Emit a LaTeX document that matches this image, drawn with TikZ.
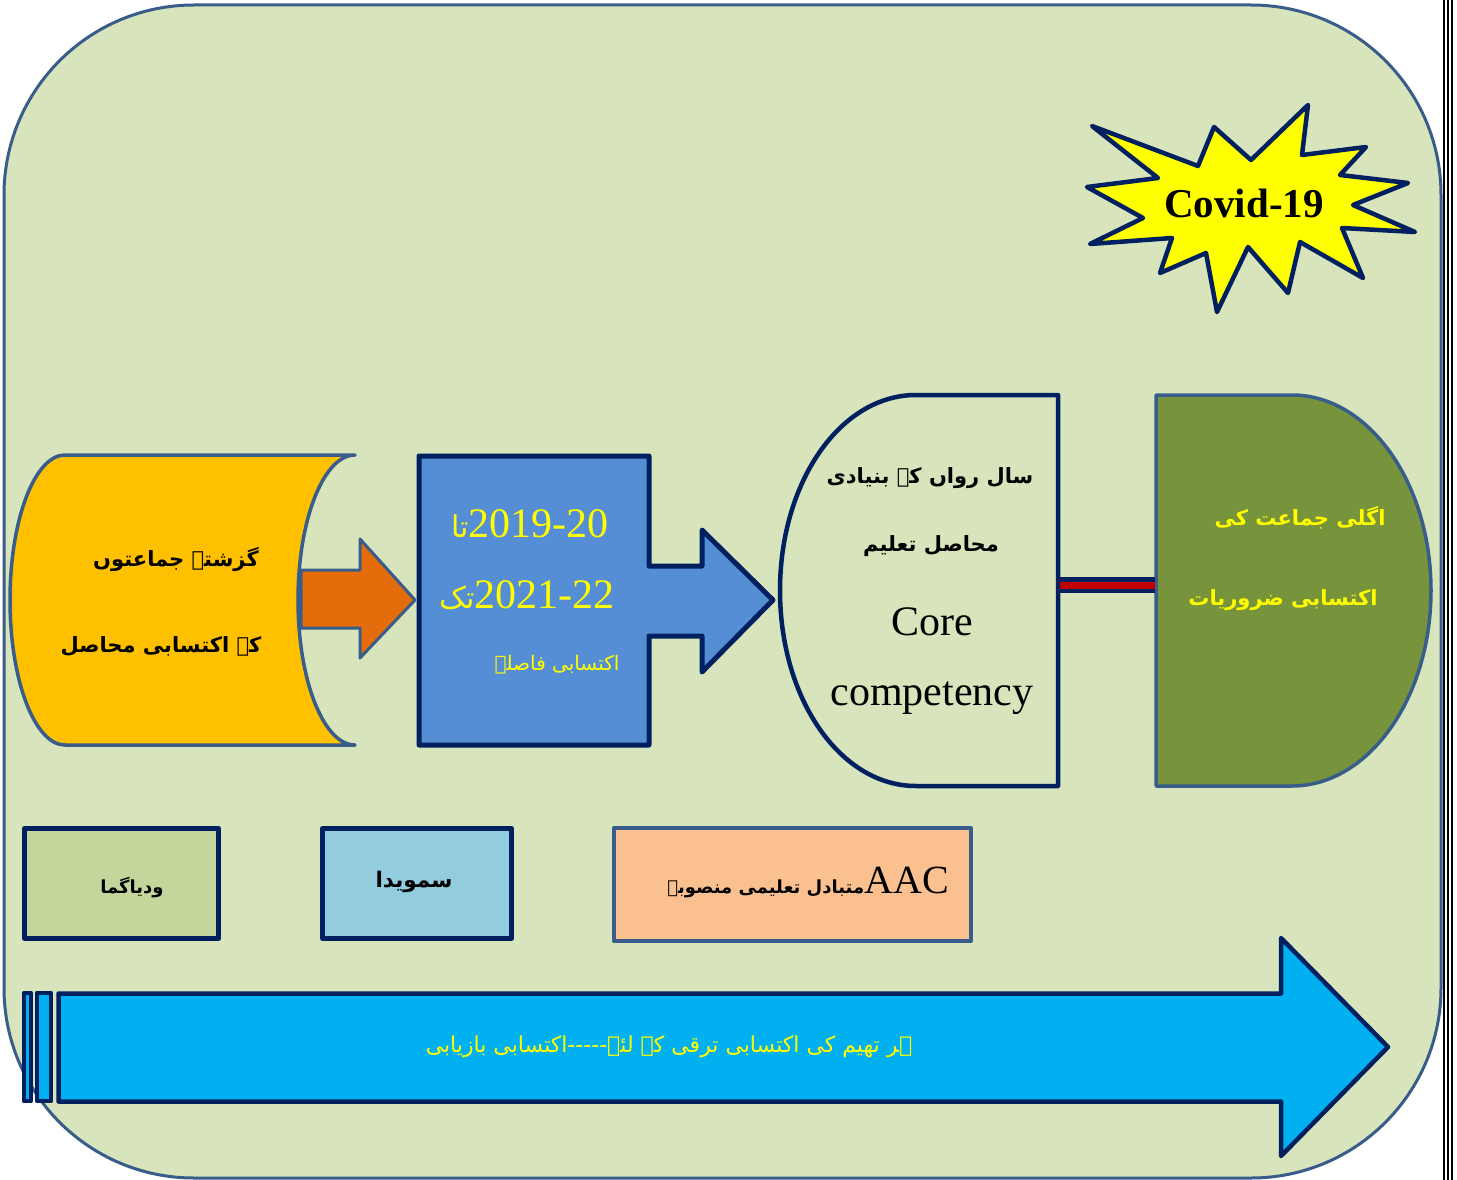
\documentclass[tikz,border=0pt]{standalone}
\usepackage{fontspec}
\setmainfont{Liberation Serif}
\newfontfamily\urdu[Script=Arabic,Ligatures=TeXOff]{DejaVu Sans}
\TeXXeTstate=1
\definecolor{bgfill}{HTML}{D8E4BC}
\definecolor{edgeblue}{HTML}{385D8A}
\definecolor{navy}{HTML}{002060}
\definecolor{gold}{HTML}{FFC000}
\definecolor{orangeblk}{HTML}{E46C0A}
\definecolor{boxblue}{HTML}{558ED5}
\definecolor{olivefill}{HTML}{77933C}
\definecolor{palegreen}{HTML}{C3D69B}
\definecolor{palecyan}{HTML}{93CDDD}
\definecolor{peach}{HTML}{FAC090}
\definecolor{arrowcyan}{HTML}{00B0F0}
\definecolor{barred}{HTML}{C00000}
\definecolor{txtyellow}{HTML}{FFFF00}
\begin{document}
\begin{tikzpicture}[x=1pt,y=-1pt,line join=round,
  every node/.style={inner sep=0pt,outer sep=0pt},
  urd/.style={font={\urdu\fontsize{#1}{#1}\selectfont}},
  urdb/.style={font={\urdu\bfseries\fontsize{#1}{#1}\selectfont}},
  lat/.style={font={\fontsize{#1}{#1}\selectfont}},
  panel/.style={fill=bgfill,draw=edgeblue,line width=3pt,rounded corners=190pt},
  rule/.style={draw=black,line width=#1},
  scrollshape/.style={fill=gold,draw=edgeblue,line width=3.5pt,line cap=round},
  orangeblock/.style={fill=orangeblk,draw=edgeblue,line width=3pt},
  bluebox/.style={fill=boxblue,draw=navy,line width=5pt},
  coreshape/.style={fill=bgfill,draw=navy,line width=4.5pt},
  greenshape/.style={fill=olivefill,draw=edgeblue,line width=3.5pt},
  linkbar/.style={draw=navy,line width=4.5pt,double=barred,double distance=7pt},
  burst/.style={fill=txtyellow,draw=navy,line width=4.5pt},
  smallbox/.style={draw=navy,line width=5pt},
  peachbox/.style={fill=peach,draw=edgeblue,line width=4pt},
  cyanarrow/.style={fill=arrowcyan,draw=navy,line width=4.5pt}]

\useasboundingbox (0,0) rectangle (1457,1180);
\fill[white] (0,0) rectangle (1457,1180);

% background panel
\draw[panel] (4,5) rectangle (1441,1178);

% page border rules
\draw[rule=2pt] (1443.7,0) -- (1443.7,1180);
\draw[rule=2.3pt] (1447.8,0) -- (1447.8,1180);
\draw[rule=1.7pt] (1451.8,0) -- (1451.8,1180);

% scroll shape (previous classes)
\draw[scrollshape] (65,455) -- (355,455)
  .. controls (323.5,455) and (298,520) .. (298,600)
  .. controls (298,680) and (323.5,745) .. (355,745)
  -- (65,745)
  .. controls (34.6,745) and (10,680) .. (10,600)
  .. controls (10,520) and (34.6,455) .. (65,455) -- cycle;

% orange block arrow
\draw[orangeblock] (301,570) -- (360,570) -- (360,539) -- (415,600) -- (360,658) -- (360,628) -- (301,628) -- cycle;

% blue box with arrow
\draw[bluebox] (419,456) -- (649,456) -- (649,566) -- (702,566) -- (702,530) -- (773,600) -- (702,672) -- (702,636) -- (649,636) -- (649,745) -- (419,745) -- cycle;

% core competency shape
\draw[coreshape] (916,395) -- (1058,395) -- (1058,786) -- (916,786)
  .. controls (840.3,786) and (780,699) .. (780,590.5)
  .. controls (780,482) and (840.3,395) .. (916,395) -- cycle;

% green next-class shape
\draw[greenshape] (1156,395) -- (1292,395)
  .. controls (1368,395) and (1431,482) .. (1431,590.5)
  .. controls (1431,699) and (1368,786) .. (1292,786)
  -- (1156,786) -- cycle;

% connector between core shape and green shape
\coordinate (coreE) at (1060,585);
\coordinate (greenW) at (1155,585);
\draw[linkbar] (coreE) -- (greenW);

% Covid starburst
\draw[burst] (1092,126) -- (1198,166) -- (1214,127) -- (1251,160) -- (1308,105) -- (1302,155)
  -- (1366,147) -- (1340,175) -- (1408,183) -- (1353,205) -- (1415,232) -- (1342,228)
  -- (1363,278) -- (1300,242) -- (1288,293) -- (1248,247) -- (1217,312) -- (1206,253)
  -- (1160,273) -- (1172,238) -- (1090,244) -- (1143,218) -- (1087,187) -- (1158,178) -- cycle;
\node[font={\bfseries\fontsize{41}{41}\selectfont},anchor=base] (covid) at (1244,217) {Covid-19};

% texts in scroll
\node[urdb=21] (prevA) at (176,560) {\beginR گزشتہ جماعتوں\endR};
\node[urdb=21] (prevB) at (161,646) {\beginR کے اکتسابی محاصل\endR};

% texts in blue box
\node[lat=42,text=txtyellow,anchor=base] (yrA) at (530,537) {\beginR\beginL 2019-20\endL{\urdu\fontsize{30}{30}\selectfont تا}\endR};
\node[lat=42,text=txtyellow,anchor=base] (yrB) at (527,608) {\beginR\beginL 2021-22\endL{\urdu\fontsize{30}{30}\selectfont تک}\endR};
\node[urd=20,text=txtyellow] (gap) at (557,665) {\beginR اکتسابی فاصلہ\endR};

% texts in core shape
\node[urdb=21] (coreA) at (930,478) {\beginR سال رواں کے بنیادی\endR};
\node[urdb=21] (coreB) at (931,546) {\beginR محاصل تعلیم\endR};
\node[lat=42,anchor=base] (coreC) at (932,635) {Core};
\node[lat=42,anchor=base] (coreD) at (932,705) {competency};

% texts in green shape
\node[urdb=21,text=txtyellow] (nextA) at (1300,518) {\beginR اگلی جماعت کی\endR};
\node[urdb=21,text=txtyellow] (nextB) at (1283,600) {\beginR اکتسابی ضروریات\endR};

% small boxes
\node[smallbox,fill=palegreen,minimum width=194pt,minimum height=110pt] (boxA) at (121.5,883.5) {};
\node[urdb=18] (boxAtxt) at (132,888) {\beginR ودیاگما\endR};
\node[smallbox,fill=palecyan,minimum width=189pt,minimum height=110pt] (boxB) at (417,883.5) {};
\node[urdb=21.5] (boxBtxt) at (414,882) {\beginR سمویدا\endR};
\node[peachbox,minimum width=357pt,minimum height=113pt] (boxC) at (792.5,884.5) {};
\node[lat=40,anchor=base] (boxCtxt) at (808,893) {\beginR\beginL AAC\endL{\urdu\bfseries\fontsize{18}{18}\selectfont متبادل تعلیمی منصوبہ}\endR};

% bottom striped arrow
\draw[cyanarrow] (24,993) rectangle (31,1101);
\draw[cyanarrow] (37,993) rectangle (51,1101);
\draw[cyanarrow] (58.5,993.5) -- (1281,993.5) -- (1281,938) -- (1388,1047) -- (1281,1156) -- (1281,1101.5) -- (58.5,1101.5) -- cycle;
\node[urd=22,text=txtyellow] (recov) at (669,1047) {\beginR ہر تھیم کی اکتسابی ترقی کے لئے-----اکتسابی بازیابی\endR};

\end{tikzpicture}
\end{document}
